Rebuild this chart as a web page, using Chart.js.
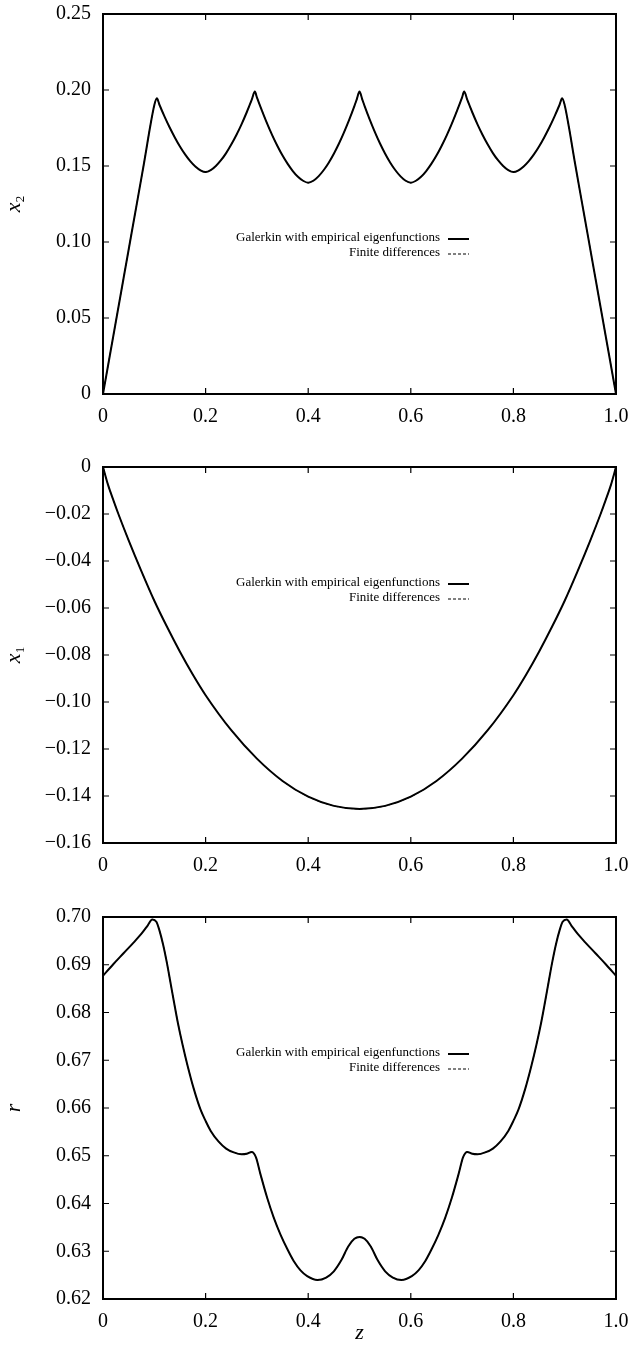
<!DOCTYPE html>
<html><head><meta charset="utf-8">
<script src="https://cdn.jsdelivr.net/npm/chart.js@4.4.1/dist/chart.umd.min.js"></script>
<style>
html,body{margin:0;padding:0;background:#fff;width:630px;height:1349px;overflow:hidden;}
.panel{position:absolute;left:0;width:630px;}
</style></head><body>
<div class="panel" style="top:0;height:440px"><canvas id="c1"></canvas></div>
<div class="panel" style="top:450px;height:440px"><canvas id="c2"></canvas></div>
<div class="panel" style="top:900px;height:449px"><canvas id="c3"></canvas></div>
<script>
// ---- tick labels ----
const zTickLabels = ["0","0.2","0.4","0.6","0.8","1.0"];
const x2TickLabels = ["0","0.05","0.10","0.15","0.20","0.25"];
const x1TickLabels = ["\u22120.16","\u22120.14","\u22120.12","\u22120.10","\u22120.08","\u22120.06","\u22120.04","\u22120.02","0"];
const rTickLabels = ["0.62","0.63","0.64","0.65","0.66","0.67","0.68","0.69","0.70"];
const legendLabels = ["Galerkin with empirical eigenfunctions","Finite differences"];

// ---- panel 1: x2 vs z ----
const x2Z = [0,0.02,0.04,0.06,0.08,0.092,0.1,0.105,0.11,0.12,0.13,0.14,0.15,0.16,0.17,0.18,0.19,0.20,
  0.21,0.22,0.23,0.24,0.25,0.26,0.27,0.28,0.29,0.296,0.30,0.31,0.32,0.33,0.34,0.35,0.36,0.37,0.38,0.39,0.40,
  0.41,0.42,0.43,0.44,0.45,0.46,0.47,0.48,0.49,0.495,0.50,0.505,0.51,0.52,0.53,0.54,0.55,0.56,0.57,0.58,0.59,0.60,
  0.61,0.62,0.63,0.64,0.65,0.66,0.67,0.68,0.69,0.70,0.704,0.71,0.72,0.73,0.74,0.75,0.76,0.77,0.78,0.79,0.80,
  0.81,0.82,0.83,0.84,0.85,0.86,0.87,0.88,0.89,0.895,0.90,0.908,0.92,0.94,0.96,0.98,1.0];
const x2Galerkin = [0,0.038,0.076,0.114,0.152,0.176,0.190,0.1945,0.1903,0.1825,0.1753,0.1688,0.1628,0.1576,0.1532,0.1497,0.1472,0.146,
  0.1473,0.1500,0.1538,0.1585,0.1641,0.1704,0.1774,0.1852,0.1936,0.199,0.1952,0.1863,0.1779,0.1702,0.1632,0.1569,0.1514,0.1467,0.1429,0.1403,0.139,
  0.1403,0.1432,0.1472,0.1522,0.1581,0.1648,0.1723,0.1805,0.1894,0.1942,0.199,0.1942,0.1894,0.1805,0.1723,0.1648,0.1581,0.1522,0.1472,0.1432,0.1403,0.139,
  0.1403,0.1429,0.1467,0.1514,0.1569,0.1632,0.1702,0.1779,0.1863,0.1952,0.199,0.1936,0.1852,0.1774,0.1704,0.1641,0.1585,0.1538,0.1500,0.1473,0.146,
  0.1472,0.1497,0.1532,0.1576,0.1628,0.1688,0.1753,0.1825,0.1903,0.1945,0.190,0.176,0.152,0.114,0.076,0.038,0];

// ---- panel 2: x1 vs z ----
const x1Z = [0,0.01,0.02,0.03,0.05,0.075,0.1,0.125,0.15,0.175,0.2,0.25,0.3,0.35,0.4,0.45,0.5,
  0.55,0.6,0.65,0.7,0.75,0.8,0.825,0.85,0.875,0.9,0.925,0.95,0.97,0.98,0.99,1.0];
const x1Galerkin = [0,-0.0077,-0.0140,-0.0200,-0.0312,-0.0444,-0.0569,-0.0681,-0.0786,-0.0883,-0.0971,-0.1120,-0.1241,-0.1336,-0.1403,-0.1442,-0.1455,
  -0.1442,-0.1403,-0.1336,-0.1241,-0.1120,-0.0971,-0.0883,-0.0786,-0.0681,-0.0569,-0.0444,-0.0312,-0.0200,-0.0140,-0.0077,0];

// ---- panel 3: r vs z ----
const rZ = [0,0.02,0.04,0.06,0.075,0.087,0.096,0.104,0.11,0.117,0.124,0.131,0.138,0.146,0.155,0.165,0.177,0.19,0.20,0.21,0.225,
  0.24,0.255,0.27,0.28,0.29,0.298,0.307,0.32,0.333,0.346,0.36,0.372,0.385,0.398,0.418,0.435,0.45,0.465,0.478,0.49,0.5,
  0.51,0.522,0.535,0.55,0.565,0.582,0.602,0.615,0.628,0.64,0.654,0.667,0.68,0.693,0.702,0.71,0.72,0.73,0.745,0.76,
  0.775,0.79,0.80,0.81,0.823,0.835,0.845,0.854,0.862,0.869,0.876,0.883,0.89,0.896,0.904,0.913,0.925,0.94,0.96,0.98,1.0];
const rGalerkin = [0.6877,0.6901,0.6924,0.6947,0.6965,0.6982,0.6995,0.6990,0.6972,0.6943,0.6907,0.6866,0.6824,0.6778,0.6733,0.6688,0.6640,0.6597,0.6573,0.6552,0.6530,
  0.6515,0.6507,0.6503,0.6504,0.6508,0.6497,0.6461,0.6412,0.6370,0.6335,0.6303,0.6279,0.6260,0.6248,0.6240,0.6245,0.6258,0.6282,0.6310,0.6326,0.6330,
  0.6326,0.6310,0.6282,0.6258,0.6245,0.6240,0.6248,0.6260,0.6279,0.6303,0.6335,0.6370,0.6412,0.6461,0.6497,0.6508,0.6504,0.6503,0.6507,0.6515,
  0.6530,0.6552,0.6573,0.6597,0.6640,0.6688,0.6733,0.6778,0.6824,0.6866,0.6907,0.6943,0.6972,0.6990,0.6995,0.6982,0.6965,0.6947,0.6924,0.6901,0.6877];

// finite-difference solution coincides with the Galerkin curve at this scale
const x2Finite = x2Galerkin, x1Finite = x1Galerkin, rFinite = rGalerkin;

const SERIF = "'Liberation Serif','Times New Roman',serif";
function pts(xs, ys){ return xs.map((x,i)=>({x:x, y:ys[i]})); }

const decorPlugin = {
  id:'decor',
  afterDatasetsDraw(chart, args, o){
    const ctx = chart.ctx, a = chart.chartArea, xs = chart.scales.x, ys = chart.scales.y;
    ctx.save();
    ctx.strokeStyle = '#000'; ctx.fillStyle = '#000';
    // inward tick marks
    ctx.lineWidth = 1.2;
    ctx.beginPath();
    xs.ticks.forEach(t=>{ const p = xs.getPixelForValue(t.value);
      ctx.moveTo(p,a.bottom); ctx.lineTo(p,a.bottom-6); ctx.moveTo(p,a.top); ctx.lineTo(p,a.top+6); });
    ys.ticks.forEach(t=>{ const p = ys.getPixelForValue(t.value);
      ctx.moveTo(a.left,p); ctx.lineTo(a.left+6,p); ctx.moveTo(a.right,p); ctx.lineTo(a.right-6,p); });
    ctx.stroke();
    // frame
    ctx.lineWidth = 2;
    ctx.strokeRect(a.left, a.top, a.right-a.left, a.bottom-a.top);
    // legend
    ctx.font = '13px ' + SERIF;
    ctx.textAlign = 'right'; ctx.textBaseline = 'middle';
    const lx = o.legendRight, ly = a.top + o.legendTop;
    ctx.fillText(legendLabels[0], lx, ly);
    ctx.fillText(legendLabels[1], lx, ly+15);
    ctx.lineWidth = 2; ctx.setLineDash([]);
    ctx.beginPath(); ctx.moveTo(lx+8, ly+1); ctx.lineTo(lx+29, ly+1); ctx.stroke();
    ctx.lineWidth = 1; ctx.setLineDash([3,2]);
    ctx.beginPath(); ctx.moveTo(lx+8, ly+16); ctx.lineTo(lx+29, ly+16); ctx.stroke();
    ctx.setLineDash([]);
    // y axis title (rotated, italic, optional subscript)
    ctx.save();
    const cy = (a.top + a.bottom)/2;
    ctx.translate(o.titleX, cy);
    ctx.rotate(-Math.PI/2);
    ctx.textAlign = 'left'; ctx.textBaseline = 'alphabetic';
    ctx.font = 'italic 22px ' + SERIF;
    const wMain = ctx.measureText(o.title).width;
    ctx.font = '13px ' + SERIF;
    const wSub = o.sub ? ctx.measureText(o.sub).width : 0;
    const x0 = -(wMain + wSub)/2;
    ctx.font = 'italic 22px ' + SERIF;
    ctx.fillText(o.title, x0, 0);
    if (o.sub){ ctx.font = '13px ' + SERIF; ctx.fillText(o.sub, x0 + wMain, 4); }
    ctx.restore();
    // x axis title
    if (o.xTitle){
      ctx.font = 'italic 22px ' + SERIF;
      ctx.textAlign = 'center'; ctx.textBaseline = 'alphabetic';
      ctx.fillText(o.xTitle, (a.left + a.right)/2, o.xTitleY);
    }
    ctx.restore();
  }
};

function zeroPad(s){ s.paddingTop = 0; s.paddingBottom = 0; s.paddingLeft = 0; s.paddingRight = 0; }

function makeChart(id, opt){
  return new Chart(document.getElementById(id), {
    type:'line',
    data:{ datasets:[
      { label:legendLabels[0], data:pts(opt.z, opt.g), borderColor:'#000', borderWidth:2, pointRadius:0,
        cubicInterpolationMode:'monotone', fill:false },
      { label:legendLabels[1], data:pts(opt.z, opt.f), borderColor:'#000', borderWidth:1, borderDash:[3,2], pointRadius:0,
        cubicInterpolationMode:'monotone', fill:false }
    ]},
    options:{
      responsive:true, maintainAspectRatio:false, animation:false,
      layout:{ padding:{ left:0, right:14, top:opt.padTop, bottom:0 } },
      plugins:{ legend:{display:false}, tooltip:{enabled:false},
        decor:{ legendRight:440, legendTop:opt.legendTop, title:opt.title, sub:opt.sub, titleX:20,
                xTitle:opt.xTitle, xTitleY:opt.xTitleY } },
      scales:{
        x:{ type:'linear', min:0, max:1,
            grid:{display:false, drawTicks:false}, border:{display:false},
            ticks:{ stepSize:0.2, padding:11, color:'#000', font:{family:SERIF, size:20},
                    maxRotation:0, callback:(v,i)=>zTickLabels[i] },
            afterFit:(s)=>{ s.height = opt.xHeight; zeroPad(s); } },
        y:{ type:'linear', min:opt.ymin, max:opt.ymax,
            grid:{display:false, drawTicks:false}, border:{display:false},
            ticks:{ stepSize:opt.ystep, padding:12, color:'#000', font:{family:SERIF, size:20},
                    callback:(v,i)=>opt.ylabels[i] },
            afterFit:(s)=>{ s.width = 103; zeroPad(s); } }
      }
    },
    plugins:[decorPlugin]
  });
}

makeChart('c1', { z:x2Z, g:x2Galerkin, f:x2Finite, ymin:0, ymax:0.25, ystep:0.05, ylabels:x2TickLabels,
  padTop:14, xHeight:46, legendTop:224, title:'x', sub:'2' });
makeChart('c2', { z:x1Z, g:x1Galerkin, f:x1Finite, ymin:-0.16, ymax:0, ystep:0.02, ylabels:x1TickLabels,
  padTop:17, xHeight:47, legendTop:116, title:'x', sub:'1' });
makeChart('c3', { z:rZ, g:rGalerkin, f:rFinite, ymin:0.62, ymax:0.70, ystep:0.01, ylabels:rTickLabels,
  padTop:17, xHeight:50, legendTop:136, title:'r', sub:'', xTitle:'z', xTitleY:439 });
</script>
</body></html>
